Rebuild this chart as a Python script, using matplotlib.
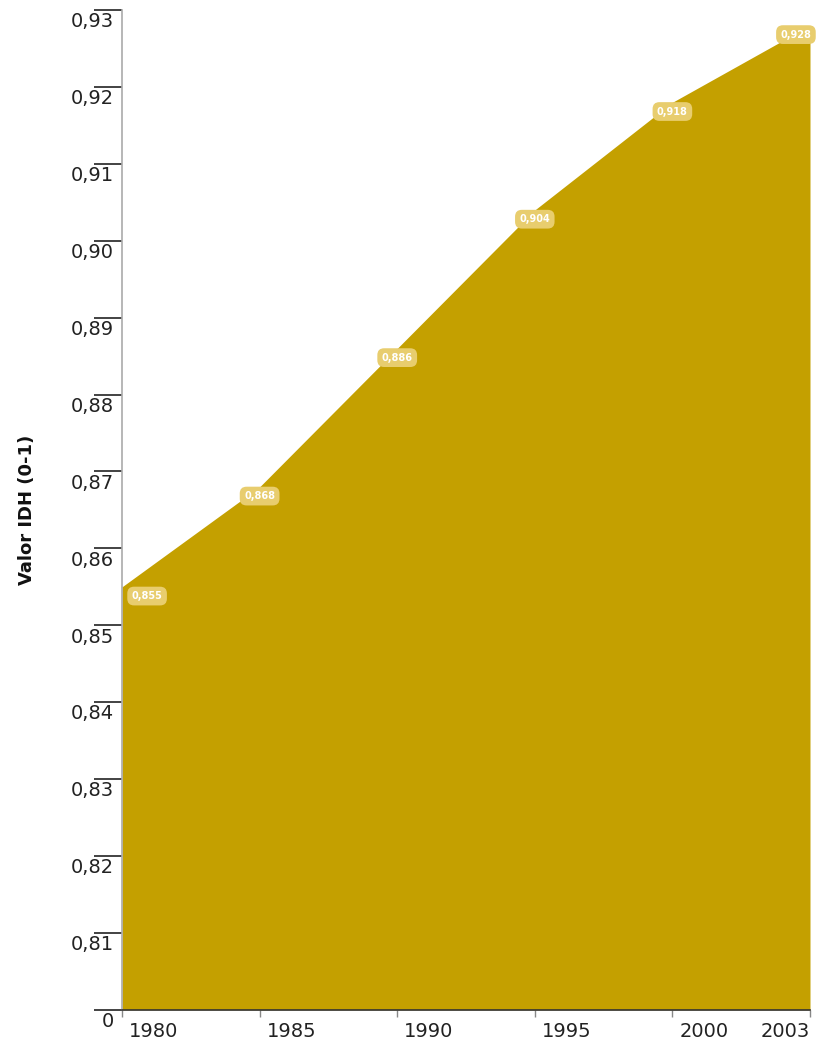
import matplotlib.pyplot as plt
import matplotlib.transforms as mtransforms

# HDI values
years = ['1980', '1985', '1990', '1995', '2000', '2003']
idh = [0.855, 0.868, 0.886, 0.904, 0.918, 0.928]
yticks = [0.80, 0.81, 0.82, 0.83, 0.84, 0.85, 0.86, 0.87, 0.88, 0.89, 0.90, 0.91, 0.92, 0.93]
ytick_labels = ['0', '0,81', '0,82', '0,83', '0,84', '0,85', '0,86', '0,87', '0,88',
                '0,89', '0,90', '0,91', '0,92', '0,93']

fill_color = '#c4a000'
box_color = '#e8cd6e'

fig = plt.figure(figsize=(8.19, 10.53), dpi=100)
ax = fig.add_axes([0.149, 0.041, 0.84, 0.9495])

x = list(range(len(years)))
ax.fill_between(x, 0.80, idh, color=fill_color, linewidth=0)
ax.set_xlim(0, len(years) - 1)
ax.set_ylim(0.80, 0.93)

# spines
for s in ['top', 'right']:
    ax.spines[s].set_visible(False)
ax.spines['left'].set_color('#aaaaaa')
ax.spines['left'].set_linewidth(1.2)
ax.spines['bottom'].set_color('#333333')
ax.spines['bottom'].set_linewidth(1.2)

# y ticks: long lines with label hanging below
ax.set_yticks(yticks)
ax.set_yticklabels([])
ax.tick_params(axis='y', length=20, width=1.2, color='#222222', direction='out')
ytrans = mtransforms.blended_transform_factory(ax.transAxes, ax.transData)
for v, lab in zip(yticks, ytick_labels):
    ax.text(-0.012, v - 0.0003, lab, transform=ytrans, ha='right', va='top',
            fontsize=14, color='#222222')

# x ticks: labels to the right of each tick
ax.set_xticks(x)
ax.set_xticklabels([])
ax.tick_params(axis='x', length=5, width=1, color='#888888', direction='out')
xtrans = mtransforms.blended_transform_factory(ax.transData, ax.transAxes)
for i, lab in zip(x, years):
    ha = 'left' if i < len(years) - 1 else 'right'
    xo = i + 0.05 if i < len(years) - 1 else i
    ax.text(xo, -0.012, lab, transform=xtrans, ha=ha, va='top',
            fontsize=14, color='#222222')

# value labels on the line
for i, v in zip(x, idh):
    xi = i
    ha = 'center'
    if i == 0:
        xi, ha = 0.07, 'left'
    elif i == len(years) - 1:
        xi, ha = i + 0.01, 'right'
    ax.text(xi, v - 0.0012, f'{v:.3f}'.replace('.', ','), ha=ha, va='center',
            fontsize=7, color='white', fontweight='bold',
            bbox=dict(boxstyle='round,pad=0.45,rounding_size=0.7',
                      facecolor=box_color, edgecolor='none'))

fig.text(0.033, 0.516, 'Valor IDH (0-1)', rotation=90, ha='center', va='center',
         fontsize=13, fontweight='bold', color='#111111')

plt.savefig('out.png', dpi=100)
